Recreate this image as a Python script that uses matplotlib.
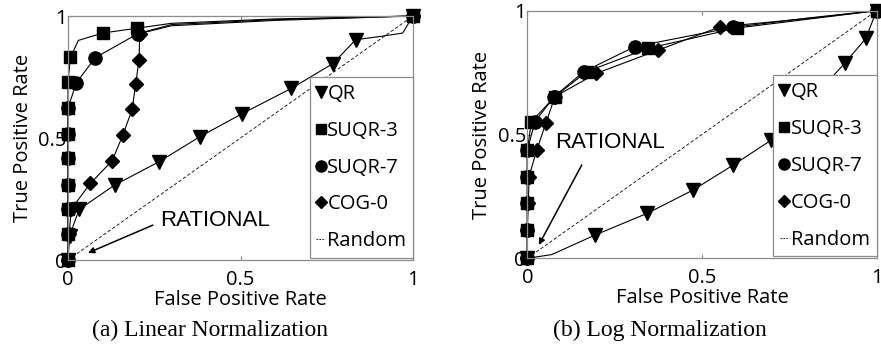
import matplotlib
matplotlib.use("Agg")
import matplotlib.pyplot as plt
from matplotlib.lines import Line2D

# (a) linear normalization - ROC points
lin_qr_fpr = [0, 0.005, 0.032, 0.135, 0.263, 0.382, 0.505, 0.647, 0.768, 0.834, 0.9, 0.97, 1]
lin_qr_tpr = [0, 0.1, 0.207, 0.307, 0.402, 0.505, 0.6, 0.703, 0.805, 0.903, 0.915, 0.93, 1]
lin_qr_marks = [0, 1, 2, 3, 4, 5, 6, 7, 8, 9, 12]

lin_suqr3_fpr = [0, 0, 0, 0, 0, 0, 0, 0, 0.007, 0.03, 0.1, 0.2, 0.3, 0.6, 1]
lin_suqr3_tpr = [0, 0.105, 0.207, 0.307, 0.416, 0.518, 0.623, 0.731, 0.83, 0.9, 0.93, 0.95, 0.97, 0.988, 1]
lin_suqr3_marks = [0, 1, 2, 3, 4, 5, 6, 7, 8, 10, 11, 14]

lin_suqr7_fpr = [0, 0, 0, 0, 0, 0, 0, 0.024, 0.079, 0.203, 0.3, 0.6, 1]
lin_suqr7_tpr = [0, 0.105, 0.207, 0.307, 0.416, 0.518, 0.623, 0.726, 0.829, 0.928, 0.965, 0.985, 1]
lin_suqr7_marks = [0, 1, 2, 3, 4, 5, 6, 7, 8, 9, 12]

lin_cog_fpr = [0, 0.003, 0.01, 0.065, 0.128, 0.159, 0.186, 0.196, 0.206, 0.208, 0.3, 0.6, 1]
lin_cog_tpr = [0, 0.105, 0.21, 0.314, 0.407, 0.512, 0.617, 0.72, 0.821, 0.928, 0.96, 0.982, 1]
lin_cog_marks = [0, 1, 2, 3, 4, 5, 6, 7, 8, 9, 12]

# (b) log normalization
log_qr_fpr = [0, 0.07, 0.194, 0.344, 0.475, 0.59, 0.699, 0.8, 0.909, 0.969, 1]
log_qr_tpr = [0, 0.015, 0.094, 0.182, 0.276, 0.377, 0.478, 0.62, 0.788, 0.888, 1]
log_qr_marks = [0, 2, 3, 4, 5, 6, 7, 8, 9, 10]

log_suqr3_fpr = [0, 0, 0, 0, 0, 0.012, 0.079, 0.17, 0.346, 0.6, 0.8, 1]
log_suqr3_tpr = [0, 0.114, 0.222, 0.33, 0.437, 0.552, 0.653, 0.754, 0.848, 0.93, 0.965, 1]
log_suqr3_marks = [0, 1, 2, 3, 4, 5, 6, 7, 8, 9, 11]

log_suqr7_fpr = [0, 0, 0, 0, 0, 0.022, 0.077, 0.162, 0.308, 0.59, 0.8, 1]
log_suqr7_tpr = [0, 0.114, 0.222, 0.33, 0.437, 0.552, 0.653, 0.754, 0.855, 0.933, 0.97, 1]
log_suqr7_marks = [0, 1, 2, 3, 4, 5, 6, 7, 8, 9, 11]

log_cog_fpr = [0, 0, 0.003, 0.005, 0.027, 0.053, 0.079, 0.198, 0.375, 0.552, 0.8, 1]
log_cog_tpr = [0, 0.114, 0.222, 0.33, 0.437, 0.545, 0.653, 0.747, 0.841, 0.935, 0.968, 1]
log_cog_marks = [0, 1, 2, 3, 4, 5, 6, 7, 8, 9, 11]

random_line = [0, 1]
ticks = [0, 0.5, 1]
tick_labels = ["0", "0.5", "1"]
legend_labels = ["QR", "SUQR-3", "SUQR-7", "COG-0", "Random"]

SANS = "Open Sans"
GREY = "#8c8c8c"
FS = 14.5

fig = plt.figure(figsize=(8.81, 3.48), dpi=100)
ax1 = fig.add_axes([68 / 881, 88 / 348, 345 / 881, 244 / 348])
ax2 = fig.add_axes([527.3 / 881, 89.7 / 348, 349.3 / 881, 247.6 / 348])


def draw_panel(ax, qr, s3, s7, cog, txt_xy, arrow_tail, arrow_head):
    ax.plot(random_line, random_line, color="black", lw=0.6, dashes=(4, 2.5))
    ax.plot(qr[0], qr[1], color="black", lw=0.8, marker="v", ms=10.5,
            markevery=qr[2], clip_on=False)
    ax.plot(s3[0], s3[1], color="black", lw=0.8, marker="s", ms=8,
            markevery=s3[2], clip_on=False)
    ax.plot(s7[0], s7[1], color="black", lw=0.8, marker="o", ms=9.5,
            markevery=s7[2], clip_on=False)
    ax.plot(cog[0], cog[1], color="black", lw=0.8, marker="D", ms=7,
            markevery=cog[2], clip_on=False)

    ax.set_xlim(0, 1)
    ax.set_ylim(0, 1)
    ax.set_xticks(ticks)
    ax.set_yticks(ticks)
    ax.set_xticklabels(tick_labels, fontfamily=SANS, fontsize=FS)
    ax.set_yticklabels(tick_labels, fontfamily=SANS, fontsize=FS)
    ax.tick_params(direction="in", top=True, right=True, length=3, color=GREY)
    ax.tick_params(axis="x", pad=7)
    ax.tick_params(axis="y", pad=1)
    for sp in ax.spines.values():
        sp.set_color(GREY)
        sp.set_linewidth(0.9)
    ax.set_xlabel("False Positive Rate", fontfamily=SANS, fontsize=FS, labelpad=0)
    ax.set_ylabel("True Positive Rate", fontfamily=SANS, fontsize=FS, labelpad=4)

    ax.annotate("", xy=arrow_head, xytext=arrow_tail,
                arrowprops=dict(arrowstyle="-|>", color="black", lw=1.1,
                                mutation_scale=9, shrinkA=0, shrinkB=0))
    ax.text(txt_xy[0], txt_xy[1], "RATIONAL", fontfamily="Liberation Sans",
            fontsize=16, va="center", ha="left")

    handles = [
        Line2D([], [], color="black", marker="v", ls="none", ms=8),
        Line2D([], [], color="black", marker="s", ls="none", ms=7),
        Line2D([], [], color="black", marker="o", ls="none", ms=8),
        Line2D([], [], color="black", marker="D", ls="none", ms=6),
        Line2D([], [], color="black", lw=0.6, dashes=(2, 1.5)),
    ]
    leg = ax.legend(handles, legend_labels, loc="lower right",
                    bbox_to_anchor=(1.0, 0.008), borderaxespad=0,
                    prop={"family": SANS, "size": FS}, handlelength=0.45,
                    handletextpad=0.1, labelspacing=0.84, borderpad=0.33,
                    fancybox=False, framealpha=1, edgecolor=GREY)
    leg.get_frame().set_linewidth(0.9)


draw_panel(ax1,
           (lin_qr_fpr, lin_qr_tpr, lin_qr_marks),
           (lin_suqr3_fpr, lin_suqr3_tpr, lin_suqr3_marks),
           (lin_suqr7_fpr, lin_suqr7_tpr, lin_suqr7_marks),
           (lin_cog_fpr, lin_cog_tpr, lin_cog_marks),
           (0.267, 0.16), (0.246, 0.143), (0.058, 0.029))
draw_panel(ax2,
           (log_qr_fpr, log_qr_tpr, log_qr_marks),
           (log_suqr3_fpr, log_suqr3_tpr, log_suqr3_marks),
           (log_suqr7_fpr, log_suqr7_tpr, log_suqr7_marks),
           (log_cog_fpr, log_cog_tpr, log_cog_marks),
           (0.079, 0.468), (0.156, 0.377), (0.033, 0.054))

fig.text(210 / 881, 1 - 330 / 348, "(a) Linear Normalization", fontfamily="Liberation Serif",
         fontsize=17, ha="center", va="center")
fig.text(660 / 881, 1 - 330 / 348, "(b) Log Normalization", fontfamily="Liberation Serif",
         fontsize=17, ha="center", va="center")

fig.savefig("out.png", dpi=100)
